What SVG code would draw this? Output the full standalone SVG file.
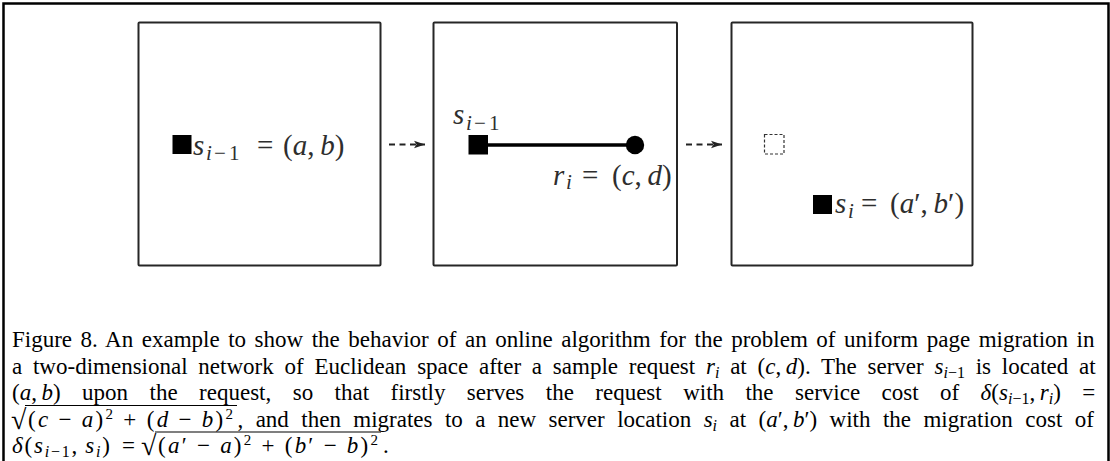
<svg xmlns="http://www.w3.org/2000/svg" width="1110" height="461" viewBox="0 0 1110 461">
  <style>
    .frame { fill: none; stroke: #000; stroke-width: 2.5; }
    .box { fill: none; stroke: #262626; stroke-width: 2; }
    .fig { font-family: "Liberation Serif", "Times New Roman", serif; font-size: 29px; fill: #2e2e2e; }
    .fsub { font-size: 21px; }
    .it { font-style: italic; }
    .cap { font-family: "Liberation Serif", "Times New Roman", serif; font-size: 23px; fill: #000; }
    .m { font-style: italic; }
    .sb { font-size: 16px; }
    .sp { font-size: 15px; }
    .rad { font-family: "Liberation Serif", "Times New Roman", serif; font-size: 28px; fill: #000; }
    .vinc { stroke: #000; stroke-width: 1.2; }
    .link { stroke: #222; stroke-width: 1.8; stroke-dasharray: 6 4.5; fill: none; }
  </style>
  <defs>
    <marker id="head" markerUnits="userSpaceOnUse" markerWidth="12" markerHeight="9" viewBox="0 0 12 9" refX="11" refY="4.5" orient="auto">
      <path d="M0,0.8 L11,4.5 L0,8.2 L2.6,4.5 Z" fill="#222"/>
    </marker>
  </defs>

  <rect width="1110" height="461" fill="#fff"/>
  <path class="frame" d="M3.5,461 V3.5 H1108.5 V461"/>

  <!-- step 1: server before the request -->
  <g id="panel-before">
    <rect class="box" x="138.5" y="22.5" width="242" height="243" rx="1"/>
    <rect x="172.5" y="135" width="19" height="19" fill="#000"/>
    <text class="fig" y="155"><tspan class="it" x="193">s</tspan><tspan class="fsub it" x="206" y="159.5">i</tspan><tspan class="fsub" x="214">−</tspan><tspan class="fsub" x="229">1</tspan><tspan x="257" y="155">=</tspan><tspan x="283">(</tspan><tspan class="it">a</tspan><tspan>,&#8201;</tspan><tspan class="it">b</tspan><tspan>)</tspan></text>
  </g>

  <!-- step 2: the request and the service path -->
  <g id="panel-request">
    <rect class="box" x="433.5" y="22.5" width="243.5" height="243" rx="1"/>
    <line x1="486" y1="145" x2="634" y2="145" stroke="#000" stroke-width="3.6"/>
    <rect x="468.5" y="135" width="19.5" height="19.5" fill="#000"/>
    <circle cx="635" cy="145" r="9.2" fill="#000"/>
    <text class="fig" y="123.5"><tspan class="it" x="453">s</tspan><tspan class="fsub it" x="466" y="129.5">i</tspan><tspan class="fsub" x="474">−</tspan><tspan class="fsub" x="489">1</tspan></text>
    <text class="fig" y="185"><tspan class="it" x="553">r</tspan><tspan class="fsub it" x="566" y="189">i</tspan><tspan x="582" y="185">=</tspan><tspan x="612">(</tspan><tspan class="it">c</tspan><tspan>,&#8201;</tspan><tspan class="it">d</tspan><tspan>)</tspan></text>
  </g>

  <!-- step 3: server after migrating -->
  <g id="panel-after">
    <rect class="box" x="731.5" y="22.5" width="241" height="243" rx="1"/>
    <rect x="764.5" y="134.5" width="19.5" height="19.5" fill="none" stroke="#333" stroke-width="1.2" stroke-dasharray="3 2"/>
    <rect x="813" y="195" width="19" height="19" fill="#000"/>
    <text class="fig" y="213"><tspan class="it" x="835">s</tspan><tspan class="fsub it" x="848" y="217.5">i</tspan><tspan x="861" y="213">=</tspan><tspan x="890">(</tspan><tspan class="it">a</tspan><tspan>′,&#8201;</tspan><tspan class="it">b</tspan><tspan>′)</tspan></text>
  </g>

  <g id="connectors">
    <line class="link" x1="389" y1="144.5" x2="425" y2="144.5" marker-end="url(#head)"/>
    <line class="link" x1="686" y1="144.5" x2="722" y2="144.5" marker-end="url(#head)"/>
  </g>

  <!-- caption -->
  <g id="caption">
    <text class="cap" x="12" y="347" word-spacing="2.78">Figure 8. An example to show the behavior of an online algorithm for the problem of uniform page migration in</text>
    <text class="cap" x="12" y="373.5" word-spacing="5.02">a two-dimensional network of Euclidean space after a sample request <tspan class="m">r</tspan><tspan class="sb m" dy="4">i</tspan><tspan dy="-4"> at (</tspan><tspan class="m">c</tspan>,&#8201;<tspan class="m">d</tspan>). The server <tspan class="m">s</tspan><tspan class="sb m" dy="4">i</tspan><tspan class="sb">−1</tspan><tspan dy="-4"> is located at</tspan></text>
    <text class="cap" x="12" y="400" word-spacing="15.68">(<tspan class="m">a</tspan>,&#8201;<tspan class="m">b</tspan>) upon the request, so that firstly serves the request with the service cost of <tspan class="m">δ</tspan>(<tspan class="m">s</tspan><tspan class="sb m" dy="4">i</tspan><tspan class="sb">−1</tspan><tspan dy="-4">,&#8201;</tspan><tspan class="m">r</tspan><tspan class="sb m" dy="4">i</tspan><tspan dy="-4">) =</tspan></text>

    <text class="rad" x="11" y="428.5">√</text>
    <line class="vinc" x1="25" y1="405.5" x2="237" y2="405.5"/>
    <text class="cap" x="28" y="426.5" textLength="205" lengthAdjust="spacing">(<tspan class="m">c</tspan> − <tspan class="m">a</tspan>)<tspan class="sp" dy="-8">2</tspan><tspan dy="8"> + (</tspan><tspan class="m">d</tspan> − <tspan class="m">b</tspan>)<tspan class="sp" dy="-8">2</tspan></text>
    <text class="cap" x="237.5" y="426.5" word-spacing="6.66">, and then migrates to a new server location <tspan class="m">s</tspan><tspan class="sb m" dy="4">i</tspan><tspan dy="-4"> at (</tspan><tspan class="m">a</tspan>′,&#8201;<tspan class="m">b</tspan>′) with the migration cost of</text>

    <text class="cap" x="12" y="453" textLength="98" lengthAdjust="spacing"><tspan class="m">δ</tspan>(<tspan class="m">s</tspan><tspan class="sb m" dy="4">i</tspan><tspan class="sb">−1</tspan><tspan dy="-4">,&#8201;</tspan><tspan class="m">s</tspan><tspan class="sb m" dy="4">i</tspan><tspan dy="-4">)</tspan></text>
    <text class="cap" x="122" y="453">=</text>
    <text class="rad" x="141" y="455">√</text>
    <line class="vinc" x1="155" y1="432" x2="381" y2="432"/>
    <text class="cap" x="158" y="453" textLength="220" lengthAdjust="spacing">(<tspan class="m">a</tspan>′ − <tspan class="m">a</tspan>)<tspan class="sp" dy="-8">2</tspan><tspan dy="8"> + (</tspan><tspan class="m">b</tspan>′ − <tspan class="m">b</tspan>)<tspan class="sp" dy="-8">2</tspan></text>
    <text class="cap" x="383" y="453">.</text>
  </g>
</svg>
